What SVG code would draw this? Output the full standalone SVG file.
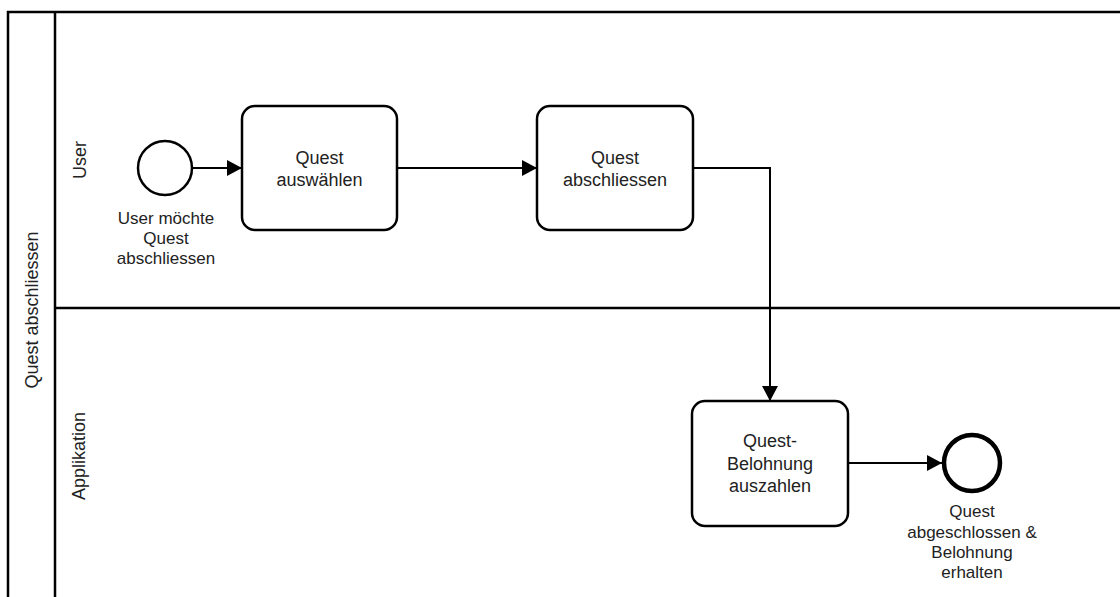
<svg xmlns="http://www.w3.org/2000/svg" width="1120" height="597" viewBox="0 0 1120 597">
<style>
.ln{fill:none;stroke:#000;stroke-width:2.5}
.task{fill:#fff;stroke:#000;stroke-width:2.5}
.flow{fill:none;stroke:#000;stroke-width:2}
.t{font-family:"Liberation Sans",Arial,sans-serif;fill:#222;text-anchor:middle}
.tt{font-size:18px}
.et{font-size:17px}
</style>
<defs>
<marker id="arr" markerWidth="15" markerHeight="16" refX="15" refY="8" orient="auto" markerUnits="userSpaceOnUse">
<path d="M0,0 L15,8 L0,16 z" fill="#000"/>
</marker>
</defs>
<rect width="1120" height="597" fill="#fff"/>
<g id="pool">
<rect class="ln" x="8" y="12" width="1130" height="600"/>
<line class="ln" x1="55" y1="12" x2="55" y2="610"/>
<text class="t tt" transform="translate(38,310) rotate(-90)">Quest abschliessen</text>
</g>
<g id="lane-user">
<text class="t tt" transform="translate(86,160) rotate(-90)">User</text>
</g>
<g id="lane-app">
<line class="ln" x1="55" y1="308" x2="1130" y2="308"/>
<text class="t tt" transform="translate(85,456) rotate(-90)">Applikation</text>
</g>
<g id="connectors">
<line class="flow" x1="192" y1="168" x2="242" y2="168" marker-end="url(#arr)"/>
<line class="flow" x1="397" y1="168" x2="537" y2="168" marker-end="url(#arr)"/>
<polyline class="flow" points="693,168 770,168 770,401" marker-end="url(#arr)"/>
<line class="flow" x1="848" y1="463" x2="942" y2="463" marker-end="url(#arr)"/>
</g>
<g id="start">
<circle cx="165" cy="168" r="27" fill="#fff" stroke="#000" stroke-width="2.5"/>
<text class="t et" x="166" y="224">User möchte</text>
<text class="t et" x="166" y="244">Quest</text>
<text class="t et" x="166" y="264">abschliessen</text>
</g>
<g id="task1">
<rect class="task" x="242" y="106" width="155" height="124" rx="13"/>
<text class="t tt" x="319.5" y="164">Quest</text>
<text class="t tt" x="319.5" y="185.5">auswählen</text>
</g>
<g id="task2">
<rect class="task" x="537" y="106" width="156" height="124" rx="13"/>
<text class="t tt" x="615" y="164">Quest</text>
<text class="t tt" x="615" y="185.5">abschliessen</text>
</g>
<g id="task3">
<rect class="task" x="692" y="401" width="156" height="125" rx="13"/>
<text class="t tt" x="770" y="447">Quest-</text>
<text class="t tt" x="770" y="469.5">Belohnung</text>
<text class="t tt" x="770" y="492">auszahlen</text>
</g>
<g id="end">
<circle cx="972" cy="463" r="28" fill="#fff" stroke="#000" stroke-width="4.5"/>
<text class="t et" x="972" y="517">Quest</text>
<text class="t et" x="972" y="538">abgeschlossen &amp;</text>
<text class="t et" x="972" y="558">Belohnung</text>
<text class="t et" x="972" y="578">erhalten</text>
</g>
</svg>
